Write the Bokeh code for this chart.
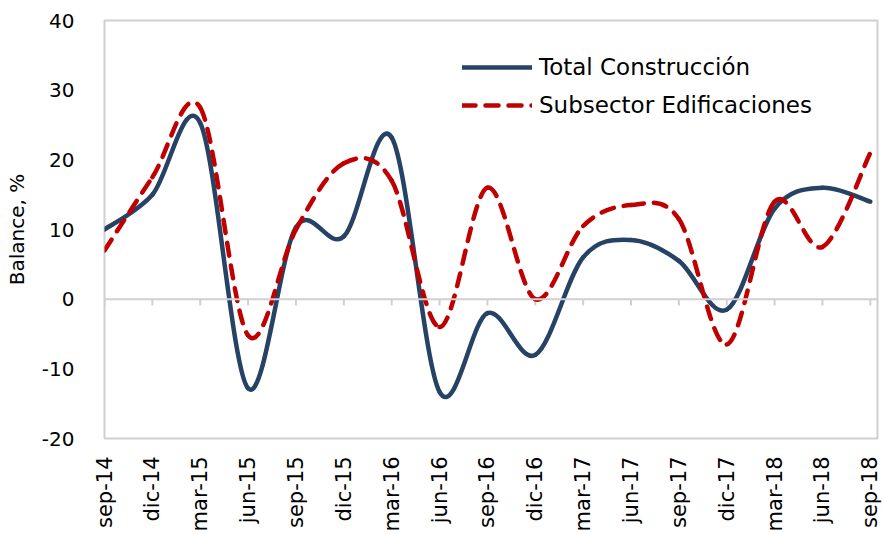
import math
from bokeh.plotting import figure
from bokeh.models import Range1d, FixedTicker, Span, Legend, LegendItem, ColumnDataSource
from bokeh.embed import file_html
from bokeh.resources import INLINE

categories = ["sep-14", "dic-14", "mar-15", "jun-15", "sep-15", "dic-15", "mar-16",
              "jun-16", "sep-16", "dic-16", "mar-17", "jun-17", "sep-17", "dic-17",
              "mar-18", "jun-18", "sep-18"]
total_construccion = [10, 15, 25.3, -12.8, 10.3, 9, 23.2, -13.3, -2, -8, 6, 8.5, 5.5, -1.5, 13, 16, 14]
subsector_edificaciones = [7, 17.5, 27.5, -5.2, 10, 19.5, 17, -4, 16, 0, 10.5, 13.5, 11.5, -6.5, 14, 7.5, 21]
y_ticks = [-20, -10, 0, 10, 20, 30, 40]
y_tick_labels = ["-20", "-10", "0", "10", "20", "30", "40"]

FONT = "DejaVu Sans"


def bezier_source(vals):
    n = len(vals)
    xs = list(range(n))
    d = dict(x0=[], y0=[], x1=[], y1=[], cx0=[], cy0=[], cx1=[], cy1=[])
    for i in range(n - 1):
        im = max(i - 1, 0)
        ip2 = min(i + 2, n - 1)
        d["x0"].append(xs[i]); d["y0"].append(vals[i])
        d["x1"].append(xs[i + 1]); d["y1"].append(vals[i + 1])
        d["cx0"].append(xs[i] + (xs[i + 1] - xs[im]) / 6)
        d["cy0"].append(vals[i] + (vals[i + 1] - vals[im]) / 6)
        d["cx1"].append(xs[i + 1] - (xs[ip2] - xs[i]) / 6)
        d["cy1"].append(vals[i + 1] - (vals[ip2] - vals[i]) / 6)
    return ColumnDataSource(d)


p = figure(width=882, height=534, output_backend="svg", toolbar_location=None,
           x_range=Range1d(0, 16.15), y_range=Range1d(-20, 40),
           min_border_left=104, min_border_top=20, min_border_bottom=94, min_border_right=5)

p.outline_line_color = "#d0d0d0"
p.outline_line_width = 2
p.xgrid.visible = False
p.ygrid.visible = False
p.background_fill_color = "white"
p.border_fill_color = "white"

# y axis
p.yaxis.ticker = FixedTicker(ticks=y_ticks)
p.yaxis.major_label_overrides = {t: l for t, l in zip(y_ticks, y_tick_labels)}
p.yaxis.axis_line_color = None
p.yaxis.major_tick_line_color = None
p.yaxis.minor_tick_line_color = None
p.yaxis.major_label_text_font = FONT
p.yaxis.major_label_text_font_size = "20px"
p.yaxis.major_label_text_color = "black"
p.yaxis.major_label_standoff = 24
p.yaxis.axis_label = "Balance, %"
p.yaxis.axis_label_text_font = FONT
p.yaxis.axis_label_text_font_size = "20px"
p.yaxis.axis_label_text_font_style = "normal"
p.yaxis.axis_label_text_color = "black"
p.yaxis.axis_label_standoff = 10

# x axis
idx = list(range(len(categories)))
p.xaxis.ticker = FixedTicker(ticks=idx)
p.xaxis.major_label_overrides = {i: c for i, c in enumerate(categories)}
p.xaxis.major_label_orientation = math.pi / 2
p.xaxis.axis_line_color = None
p.xaxis.major_tick_line_color = None
p.xaxis.minor_tick_line_color = None
p.xaxis.major_label_text_font = FONT
p.xaxis.major_label_text_font_size = "21px"
p.xaxis.major_label_text_color = "black"
p.xaxis.major_label_standoff = 12

# zero line with category tick marks
p.add_layout(Span(location=0, dimension="width", line_color="#d0d0d0", line_width=2))
p.segment(x0=idx, y0=[0] * len(idx), x1=idx, y1=[-0.9] * len(idx),
          line_color="#d0d0d0", line_width=2)

r_total = p.bezier(x0="x0", y0="y0", x1="x1", y1="y1", cx0="cx0", cy0="cy0",
                   cx1="cx1", cy1="cy1", source=bezier_source(total_construccion),
                   line_color="#264264", line_width=4.5, line_cap="round")
r_sub = p.bezier(x0="x0", y0="y0", x1="x1", y1="y1", cx0="cx0", cy0="cy0",
                 cx1="cx1", cy1="cy1", source=bezier_source(subsector_edificaciones),
                 line_color="#C00000", line_width=4.5, line_cap="round",
                 line_dash="13 10")

legend = Legend(items=[LegendItem(label="Total Construcción", renderers=[r_total]),
                       LegendItem(label="Subsector Edificaciones", renderers=[r_sub])],
                location=(358, 320), orientation="vertical",
                glyph_width=70, glyph_height=20, label_height=20, spacing=12,
                label_standoff=7, padding=0, margin=0,
                label_text_font=FONT, label_text_font_size="23px",
                label_text_color="black",
                border_line_color=None, background_fill_alpha=0)
p.add_layout(legend, "center")

open("out.html", "w").write(file_html(p, INLINE))
